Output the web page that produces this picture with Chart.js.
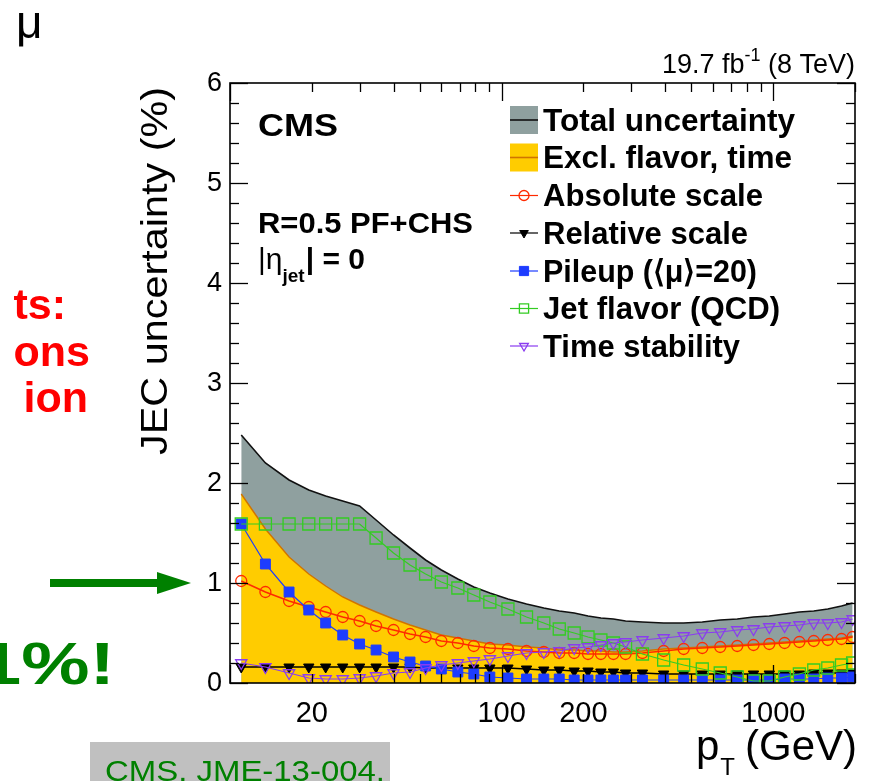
<!DOCTYPE html>
<html>
<head>
<meta charset="utf-8">
<script src="https://cdn.jsdelivr.net/npm/chart.js@4/dist/chart.umd.min.js"></script>
<style>
  html, body { margin: 0; padding: 0; background: #fff; }
  #wrap { position: relative; width: 876px; height: 781px; overflow: hidden; }
  canvas { display: block; }
</style>
</head>
<body>
<div id="wrap"><canvas id="c" width="876" height="781"></canvas></div>
<script>
// ---------------- data ----------------
const pT = [11, 13.5, 16.5, 19.5, 22.5, 26, 30, 34.5, 40, 46, 52.5, 60, 69, 79, 90.5, 105.5, 123.5, 143,
            163, 185, 208, 232, 258, 286, 330, 395, 468, 548, 638, 737, 846, 967, 1101, 1248, 1410, 1588, 1784, 1960];

const totalUnc = [2.48, 2.20, 2.03, 1.93, 1.87, 1.82, 1.77, 1.63, 1.48, 1.35, 1.23, 1.13, 1.04, 0.96, 0.90, 0.84, 0.79, 0.75,
                  0.72, 0.70, 0.67, 0.65, 0.64, 0.62, 0.61, 0.60, 0.60, 0.61, 0.63, 0.64, 0.66, 0.67, 0.69, 0.71, 0.72, 0.74, 0.77, 0.80];

const exclFlavorTime = [1.89, 1.54, 1.26, 1.09, 0.97, 0.86, 0.78, 0.71, 0.64, 0.58, 0.53, 0.48, 0.45, 0.42, 0.39, 0.38, 0.36, 0.35,
                        0.33, 0.33, 0.32, 0.32, 0.31, 0.31, 0.32, 0.34, 0.35, 0.36, 0.37, 0.38, 0.39, 0.40, 0.41, 0.42, 0.43, 0.44, 0.45, 0.47];

const absoluteScale = [1.02, 0.91, 0.82, 0.76, 0.71, 0.66, 0.62, 0.57, 0.53, 0.49, 0.46, 0.42, 0.40, 0.37, 0.35, 0.34, 0.32, 0.31,
                       0.30, 0.30, 0.29, 0.29, 0.29, 0.29, 0.30, 0.32, 0.34, 0.35, 0.36, 0.37, 0.38, 0.39, 0.40, 0.41, 0.42, 0.43, 0.44, 0.46];

const relativeScale = [0.16, 0.16, 0.16, 0.16, 0.16, 0.16, 0.16, 0.16, 0.16, 0.16, 0.15, 0.15, 0.15, 0.15, 0.15, 0.15, 0.14, 0.13,
                       0.13, 0.12, 0.12, 0.11, 0.11, 0.10, 0.10, 0.09, 0.09, 0.09, 0.09, 0.09, 0.09, 0.09, 0.09, 0.09, 0.10, 0.10, 0.10, 0.10];

const pileup = [1.59, 1.19, 0.91, 0.73, 0.60, 0.48, 0.39, 0.33, 0.26, 0.21, 0.17, 0.14, 0.11, 0.09, 0.06, 0.05, 0.04, 0.04,
                0.04, 0.03, 0.03, 0.03, 0.03, 0.03, 0.03, 0.03, 0.03, 0.03, 0.03, 0.03, 0.03, 0.03, 0.04, 0.04, 0.04, 0.05, 0.05, 0.06];

const jetFlavor = [1.59, 1.59, 1.59, 1.59, 1.59, 1.59, 1.59, 1.45, 1.30, 1.18, 1.09, 1.01, 0.95, 0.88, 0.81, 0.74, 0.66, 0.60,
                   0.54, 0.50, 0.46, 0.43, 0.40, 0.36, 0.29, 0.23, 0.18, 0.14, 0.10, 0.06, 0.02, 0.02, 0.06, 0.09, 0.13, 0.15, 0.18, 0.20];

const timeStability = [0.20, 0.16, 0.10, 0.05, 0.04, 0.04, 0.05, 0.07, 0.10, 0.11, 0.15, 0.18, 0.20, 0.22, 0.24, 0.27, 0.30, 0.31,
                       0.32, 0.35, 0.36, 0.38, 0.40, 0.41, 0.43, 0.45, 0.47, 0.50, 0.51, 0.53, 0.54, 0.56, 0.57, 0.58, 0.60, 0.60, 0.61, 0.64];

const yTickLabels = ['0', '1', '2', '3', '4', '5', '6'];
const xTickLabels = [20, 100, 200, 1000];
const legendLabels = ['Total uncertainty', 'Excl. flavor, time', 'Absolute scale', 'Relative scale',
                      'Pileup (\u27E8\u03BC\u27E9=20)', 'Jet flavor (QCD)', 'Time stability'];

// ---------------- styles ----------------
const FONT = '"Liberation Sans", Arial, Helvetica, sans-serif';
const C_GRAY = '#8fa09f', C_YEL = '#ffcc00', C_ORG = '#d07400', C_RED = '#ff2a00',
      C_BLUE = '#1d3cff', C_GREEN = '#33cc22', C_PURP = '#8a3cf0';

function pts(ys) { return pT.map((x, i) => ({ x: x, y: ys[i] })); }

const datasets = [
  { label: legendLabels[0], data: pts(totalUnc), order: 7, fill: 'origin', backgroundColor: C_GRAY,
    borderColor: '#111', borderWidth: 1.6, pointRadius: 0, tension: 0 },
  { label: legendLabels[1], data: pts(exclFlavorTime), order: 6, fill: 'origin', backgroundColor: C_YEL,
    borderColor: C_ORG, borderWidth: 1.4, pointRadius: 0, tension: 0 },
  { label: legendLabels[2], data: pts(absoluteScale), order: 5, fill: false, borderColor: C_RED, borderWidth: 1.6,
    pointStyle: 'circle', pointRadius: 5.5, pointBorderColor: C_RED, pointBackgroundColor: 'rgba(0,0,0,0)', pointBorderWidth: 1.3 },
  { label: legendLabels[3], data: pts(relativeScale), order: 4, fill: false, borderColor: '#000', borderWidth: 1.6,
    pointStyle: 'triangle', pointRotation: 180, pointRadius: 6, pointBorderColor: '#000', pointBackgroundColor: '#000', pointBorderWidth: 1 },
  { label: legendLabels[4], data: pts(pileup), order: 3, fill: false, borderColor: C_BLUE, borderWidth: 1.2,
    pointStyle: 'rect', pointRadius: 7, pointBorderColor: C_BLUE, pointBackgroundColor: C_BLUE, pointBorderWidth: 1 },
  { label: legendLabels[5], data: pts(jetFlavor), order: 2, fill: false, borderColor: C_GREEN, borderWidth: 1.2,
    pointStyle: 'rect', pointRadius: 8.5, pointBorderColor: C_GREEN, pointBackgroundColor: 'rgba(0,0,0,0)', pointBorderWidth: 1.3 },
  { label: legendLabels[6], data: pts(timeStability), order: 1, fill: false, borderColor: C_PURP, borderWidth: 1.2,
    pointStyle: 'triangle', pointRotation: 180, pointRadius: 6.5, pointBorderColor: C_PURP, pointBackgroundColor: 'rgba(0,0,0,0)', pointBorderWidth: 1.3 }
];

function seg(ctx, x1, y1, x2, y2) { ctx.beginPath(); ctx.moveTo(x1, y1); ctx.lineTo(x2, y2); ctx.stroke(); }

function marker(ctx, ds, x, y, r) {
  ctx.save();
  ctx.fillStyle = ds.pointBackgroundColor;
  ctx.strokeStyle = ds.pointBorderColor;
  ctx.lineWidth = ds.pointBorderWidth;
  Chart.helpers.drawPoint(ctx, { pointStyle: ds.pointStyle, radius: r, rotation: ds.pointRotation || 0, borderWidth: ds.pointBorderWidth }, x, y);
  ctx.restore();
}

function fitText(ctx, txt, x, y, font, width, align) {
  ctx.save();
  ctx.font = font;
  const m = ctx.measureText(txt).width;
  const s = width ? width / m : 1;
  ctx.translate(x, y);
  ctx.scale(s, 1);
  ctx.textAlign = align || 'left';
  ctx.fillText(txt, 0, 0);
  ctx.restore();
}

const rootStyle = {
  id: 'rootStyle',
  afterDatasetsDraw(chart) {
    const ctx = chart.ctx;
    const xa = chart.scales.x, ya = chart.scales.y;
    const { left, right, top, bottom } = chart.chartArea;
    ctx.save();
    ctx.strokeStyle = '#000';
    ctx.lineWidth = 1.3;
    // y ticks (inward, both sides)
    for (let k = 0; k <= 30; k++) {
      const py = Math.round(ya.getPixelForValue(k * 0.2)) + 0.5;
      const len = (k % 5 === 0) ? 18 : 9;
      seg(ctx, left, py, left + len, py);
      seg(ctx, right, py, right - len, py);
    }
    // x ticks (log)
    for (const d of [10, 100, 1000]) {
      for (let m = 1; m <= 9; m++) {
        const v = d * m;
        if (v < xa.min || v > xa.max) continue;
        const px = Math.round(xa.getPixelForValue(v)) + 0.5;
        const len = (m === 1) ? 18 : 9;
        seg(ctx, px, bottom, px, bottom - len);
        seg(ctx, px, top, px, top + len);
      }
    }
    // frame
    ctx.lineWidth = 1.6;
    ctx.strokeRect(left, top, right - left, bottom - top);

    // tick labels
    ctx.fillStyle = '#000';
    ctx.font = '27px ' + FONT;
    ctx.textAlign = 'right';
    ctx.textBaseline = 'middle';
    yTickLabels.forEach((t) => { ctx.fillText(t, left - 8, ya.getPixelForValue(Number(t)) + 1); });
    ctx.font = '29px ' + FONT;
    ctx.textAlign = 'center';
    ctx.textBaseline = 'alphabetic';
    xTickLabels.forEach((t) => { ctx.fillText(String(t), xa.getPixelForValue(t), bottom + 39); });

    // y title
    ctx.save();
    ctx.translate(left - 63, top + 4);
    ctx.rotate(-Math.PI / 2);
    fitText(ctx, 'JEC uncertainty (%)', 0, 0, '37px ' + FONT, 368, 'right');
    ctx.restore();

    // x title: p_T (GeV)
    ctx.font = '42px ' + FONT;
    ctx.textAlign = 'right';
    ctx.fillText('(GeV)', right + 2, bottom + 77);
    const wG = ctx.measureText('(GeV)').width;
    ctx.font = '24px ' + FONT;
    ctx.fillText('T', right + 2 - wG - 10, bottom + 92);
    const wT = ctx.measureText('T').width;
    ctx.font = '42px ' + FONT;
    ctx.fillText('p', right + 2 - wG - 10 - wT - 1, bottom + 77);

    // lumi label
    ctx.textAlign = 'right';
    ctx.font = '27px ' + FONT;
    ctx.fillText(' (8 TeV)', right, top - 10);
    const w8 = ctx.measureText(' (8 TeV)').width;
    ctx.font = '18px ' + FONT;
    ctx.fillText('-1', right - w8, top - 22);
    const w1 = ctx.measureText('-1').width;
    ctx.font = '27px ' + FONT;
    ctx.fillText('19.7 fb', right - w8 - w1, top - 10);

    // CMS + jet labels
    ctx.textAlign = 'left';
    fitText(ctx, 'CMS', left + 28, top + 53, 'bold 31px ' + FONT, 80, 'left');
    fitText(ctx, 'R=0.5 PF+CHS', left + 28, top + 150, 'bold 30px ' + FONT, 215, 'left');
    ctx.font = '30px ' + FONT;
    ctx.fillText('|\u03B7', left + 28, top + 186);
    let wx = left + 28 + ctx.measureText('|\u03B7').width;
    ctx.font = 'bold 19px ' + FONT;
    ctx.fillText('jet', wx, top + 199);
    wx += ctx.measureText('jet').width + 1;
    ctx.font = 'bold 30px ' + FONT;
    ctx.fillText('| = 0', wx, top + 186);

    // legend
    const lx0 = 510, lx1 = 538, lxc = 524, ltx = 543;
    const rows = [120, 157.5, 195.5, 233, 271, 308.5, 346];
    const widths = [252, 249, 220, 205, 214, 237, 197];
    ctx.textBaseline = 'middle';
    datasets.forEach((ds, i) => {
      const y = rows[i];
      if (i < 2) {
        ctx.fillStyle = ds.backgroundColor;
        ctx.fillRect(lx0, y - 14, lx1 - lx0, 28);
        ctx.strokeStyle = ds.borderColor;
        ctx.lineWidth = 1.6;
        seg(ctx, lx0, y, lx1, y);
      } else {
        ctx.strokeStyle = ds.borderColor;
        ctx.lineWidth = 1.2;
        seg(ctx, lx0, y, lx1, y);
        marker(ctx, ds, lxc, y, ds.pointStyle === 'rect' ? 6.5 : 5);
      }
      ctx.fillStyle = '#000';
      fitText(ctx, ds.label, ltx, y + 2, 'bold 31px ' + FONT, widths[i], 'left');
    });
    ctx.restore();
  },
  afterDraw(chart) {
    // slide context around the figure
    const ctx = chart.ctx;
    ctx.save();
    ctx.textBaseline = 'alphabetic';
    ctx.fillStyle = '#000';
    ctx.font = '46px ' + FONT;
    ctx.textAlign = 'left';
    ctx.fillText('\u03BC', 16, 38);

    ctx.fillStyle = '#ff0000';
    ctx.font = 'bold 43px ' + FONT;
    ctx.textAlign = 'right';
    ctx.fillText('ts:', 66, 319);
    ctx.fillText('ons', 90, 366);
    ctx.fillText('ion', 88, 412);

    ctx.fillStyle = '#008000';
    ctx.save();
    ctx.translate(115, 684);
    ctx.scale(1.28, 1);
    ctx.font = 'bold 60px ' + FONT;
    ctx.textAlign = 'right';
    ctx.fillText('1%!', 0, 0);
    ctx.restore();

    // arrow
    ctx.fillStyle = '#008000';
    ctx.fillRect(50, 579, 110, 8);
    ctx.beginPath();
    ctx.moveTo(157, 572); ctx.lineTo(191, 583); ctx.lineTo(157, 594); ctx.closePath();
    ctx.fill();

    // reference box
    ctx.fillStyle = '#c0c0c0';
    ctx.fillRect(90, 742, 300, 40);
    ctx.fillStyle = '#008000';
    fitText(ctx, 'CMS. JME-13-004.', 105, 781, '29px ' + FONT, 280, 'left');
    ctx.restore();
  }
};

new Chart(document.getElementById('c').getContext('2d'), {
  type: 'line',
  data: { datasets: datasets },
  options: {
    responsive: false,
    animation: false,
    devicePixelRatio: 1,
    layout: { padding: { left: 230, right: 21, top: 83, bottom: 98 } },
    plugins: { legend: { display: false }, tooltip: { enabled: false } },
    elements: { line: { tension: 0 } },
    scales: {
      x: { type: 'logarithmic', min: 10, max: 2000, display: false },
      y: { type: 'linear', min: 0, max: 6, display: false }
    }
  },
  plugins: [rootStyle]
});
</script>
</body>
</html>
